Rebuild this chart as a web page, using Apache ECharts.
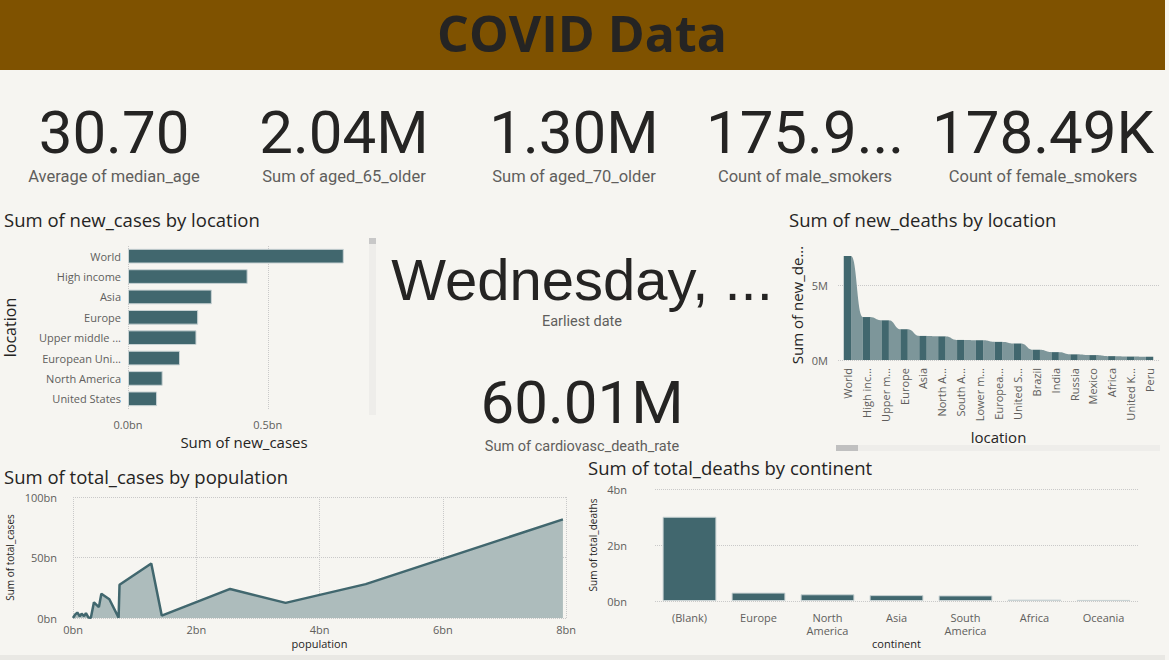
<!DOCTYPE html>
<html>
<head>
<meta charset="utf-8">
<title>COVID Data</title>
<script src="https://cdn.jsdelivr.net/npm/echarts@6/dist/echarts.min.js"></script>
<style>
html, body { margin: 0; padding: 0; background: #f6f5f1; }
#main { width: 1169px; height: 660px; }
</style>
</head>
<body>
<div id="main"></div>
<script>
// new_cases by location (bn)
var caseLocations = ['World', 'High income', 'Asia', 'Europe', 'Upper middle income', 'European Union', 'North America', 'United States'];
var newCases = [0.772, 0.428, 0.300, 0.251, 0.245, 0.186, 0.124, 0.104];

// new_deaths by location (M)
var deathLocations = ['World', 'High income', 'Upper middle income', 'Europe', 'Asia', 'North America', 'South America',
  'Lower middle income', 'European Union', 'United States', 'Brazil', 'India', 'Russia', 'Mexico', 'Africa', 'United Kingdom', 'Peru'];
var newDeaths = [7.0, 2.89, 2.67, 2.07, 1.62, 1.59, 1.35, 1.33, 1.22, 1.11, 0.69, 0.53, 0.38, 0.33, 0.26, 0.23, 0.22];

// total_cases by population (bn, bn)
var population = [0, 0.03, 0.07, 0.11, 0.14, 0.18, 0.21, 0.25, 0.29, 0.34, 0.42, 0.46, 0.59, 0.74, 0.755, 1.27, 1.44, 2.55, 3.45, 4.75, 7.95];
var totalCases = [0, 2.5, 4.5, 1.5, 3.5, 1.5, 4, 0.5, 0.3, 13, 9, 20, 15.5, 0.3, 27.5, 45, 2, 24, 12.5, 28, 81.5];

// total_deaths by continent (bn)
var continents = ['(Blank)', 'Europe', 'North America', 'Asia', 'South America', 'Africa', 'Oceania'];
var totalDeaths = [3.01, 0.30, 0.24, 0.21, 0.20, 0.05, 0.04];

// KPI cards
var kpiValues = ['30.70', '2.04M', '1.30M', '175.9...', '178.49K'];
var kpiLabels = ['Average of median_age', 'Sum of aged_65_older', 'Sum of aged_70_older', 'Count of male_smokers', 'Count of female_smokers'];
var kpiCenters = [114, 344, 574, 805, 1043];

var BAR = '#41676e';
var RIBBON = '#7d969a';
var AXIS_TXT = '#605e5c';
var DARK = '#252423';
var SANS = '"Open Sans", sans-serif';
var DIN = 'Roboto, sans-serif';
var ARIAL = '"Liberation Sans", sans-serif';

var populationData = [];
for (var i = 0; i < population.length; i++) {
  populationData.push([population[i], totalCases[i]]);
}
var ribbonData = [];
for (var j = 0; j < newDeaths.length - 1; j++) {
  ribbonData.push([j, newDeaths[j], newDeaths[j + 1]]);
}

function txt(text, x, y, size, font, fill, align, bold) {
  return {
    type: 'text', x: x, y: y, silent: true,
    style: {
      text: text, fontSize: size, fontFamily: font, fontWeight: bold ? 'bold' : 'normal',
      lineHeight: Math.round(size * 0.8), fill: fill, align: align || 'left', verticalAlign: 'middle'
    }
  };
}

var graphics = [
  { type: 'rect', shape: { x: 0, y: 0, width: 1165, height: 70 }, style: { fill: '#7f5200' }, silent: true },
  { type: 'rect', shape: { x: 0, y: 655, width: 1165, height: 5 }, style: { fill: '#e9e8e4' }, silent: true },
  txt('COVID Data', 582, 33, 50, SANS, DARK, 'center', true),
  txt('Sum of new_cases by location', 4, 219, 18.5, SANS, DARK),
  txt('Sum of new_deaths by location', 789, 219, 18.5, SANS, DARK),
  txt('Sum of total_cases by population', 4, 476, 18.5, SANS, DARK),
  txt('Sum of total_deaths by continent', 588, 467, 18.5, SANS, DARK),
  txt('Wednesday, ...', 582, 279, 58, ARIAL, DARK, 'center'),
  txt('Earliest date', 582, 321, 14.5, DIN, AXIS_TXT, 'center'),
  txt('60.01M', 582, 402, 60, DIN, DARK, 'center'),
  txt('Sum of cardiovasc_death_rate', 582, 446, 14.5, DIN, AXIS_TXT, 'center'),
  // scrollbars
  { type: 'rect', shape: { x: 369, y: 238, width: 7, height: 177 }, style: { fill: '#eeedea' }, silent: true },
  { type: 'rect', shape: { x: 369, y: 238, width: 7, height: 6 }, style: { fill: '#c8c8c8' }, silent: true },
  { type: 'rect', shape: { x: 836, y: 445, width: 324, height: 6 }, style: { fill: '#eeedea' }, silent: true },
  { type: 'rect', shape: { x: 836, y: 445, width: 22, height: 6 }, style: { fill: '#c0c0c0' }, silent: true }
];
for (var k = 0; k < kpiValues.length; k++) {
  graphics.push(txt(kpiValues[k], kpiCenters[k], 132, 60, DIN, DARK, 'center'));
  graphics.push(txt(kpiLabels[k], kpiCenters[k], 176, 16.5, DIN, AXIS_TXT, 'center'));
}

var dotted = { lineStyle: { type: 'dotted', color: '#c9c9c9' } };
var labelStyle = { color: AXIS_TXT, fontFamily: SANS, fontSize: 11 };

var chart = echarts.init(document.getElementById('main'), null, { renderer: 'svg' });
chart.setOption({
  backgroundColor: '#f6f5f1',
  animation: false,
  graphic: graphics,
  grid: [
    { left: 128, top: 246, width: 232, height: 163, outerBoundsMode: 'none' },
    { left: 838, top: 250, width: 321, height: 110, outerBoundsMode: 'none' },
    { left: 73, top: 497, width: 493, height: 121, outerBoundsMode: 'none' },
    { left: 655, top: 489, width: 483, height: 112, outerBoundsMode: 'none' }
  ],
  xAxis: [
    {
      gridIndex: 0, type: 'value', min: 0, max: 0.83, interval: 0.5,
      axisLine: { show: false }, axisTick: { show: false },
      splitLine: { show: true, showMaxLine: false, lineStyle: dotted.lineStyle },
      axisLabel: Object.assign({ showMaxLabel: false, margin: 10, formatter: function(v) { return v.toFixed(1) + 'bn' } }, labelStyle),
      name: 'Sum of new_cases', nameLocation: 'middle', nameGap: 25,
      nameTextStyle: { color: DARK, fontFamily: SANS, fontSize: 15 }
    },
    {
      gridIndex: 1, type: 'category', data: deathLocations,
      axisLine: { show: false }, axisTick: { show: false },
      axisLabel: Object.assign({ rotate: 90, interval: 0, margin: 8, width: 55, overflow: 'truncate', ellipsis: '...' }, labelStyle),
      name: 'location', nameLocation: 'middle', nameGap: 69,
      nameTextStyle: { color: DARK, fontFamily: SANS, fontSize: 15 }
    },
    {
      gridIndex: 2, type: 'value', min: 0, max: 8, interval: 2,
      axisLine: { show: false }, axisTick: { show: false },
      splitLine: dotted,
      axisLabel: Object.assign({ margin: 6, formatter: function(v) { return v + 'bn' } }, labelStyle),
      name: 'population', nameLocation: 'middle', nameGap: 20,
      nameTextStyle: { color: DARK, fontFamily: SANS, fontSize: 11 }
    },
    {
      gridIndex: 3, type: 'category', data: continents,
      axisLine: { show: false }, axisTick: { show: false },
      axisLabel: Object.assign({ interval: 0, margin: 10, lineHeight: 13, formatter: function(v) { return v.replace(' ', '\n') } }, labelStyle),
      name: 'continent', nameLocation: 'middle', nameGap: 37,
      nameTextStyle: { color: DARK, fontFamily: SANS, fontSize: 11 }
    }
  ],
  yAxis: [
    {
      gridIndex: 0, type: 'category', data: caseLocations, inverse: true,
      axisLine: { show: false }, axisTick: { show: false },
      axisLabel: Object.assign({ margin: 7, width: 84, overflow: 'truncate', ellipsis: '...' }, labelStyle),
      name: 'location', nameLocation: 'middle', nameGap: 110,
      nameTextStyle: { color: DARK, fontFamily: SANS, fontSize: 16 }
    },
    {
      gridIndex: 1, type: 'value', min: 0, max: 7.4, interval: 5,
      axisLine: { show: false }, axisTick: { show: false },
      splitLine: { show: true, showMaxLine: false, lineStyle: dotted.lineStyle },
      axisLabel: Object.assign({ showMaxLabel: false, margin: 10, formatter: function(v) { return v + 'M' } }, labelStyle),
      name: 'Sum of new_deaths', nameLocation: 'middle', nameGap: 34,
      nameTruncate: { maxWidth: 120, ellipsis: '...' },
      nameTextStyle: { color: DARK, fontFamily: SANS, fontSize: 15 }
    },
    {
      gridIndex: 2, type: 'value', min: 0, max: 100, interval: 50,
      axisLine: { show: false }, axisTick: { show: false },
      splitLine: dotted,
      axisLabel: Object.assign({ margin: 16, formatter: function(v) { return v + 'bn' } }, labelStyle),
      name: 'Sum of total_cases', nameLocation: 'middle', nameGap: 58,
      nameTextStyle: { color: DARK, fontFamily: SANS, fontSize: 10 }
    },
    {
      gridIndex: 3, type: 'value', min: 0, max: 4, interval: 2,
      axisLine: { show: false }, axisTick: { show: false },
      splitLine: dotted,
      axisLabel: Object.assign({ margin: 28, formatter: function(v) { return v + 'bn' } }, labelStyle),
      name: 'Sum of total_deaths', nameLocation: 'middle', nameGap: 57,
      nameTextStyle: { color: DARK, fontFamily: SANS, fontSize: 10 }
    }
  ],
  series: [
    {
      type: 'bar', xAxisIndex: 0, yAxisIndex: 0, data: newCases,
      barWidth: '72%', itemStyle: { color: BAR, borderColor: '#c9d3d4', borderWidth: 1 }, z: 3
    },
    {
      type: 'custom', xAxisIndex: 1, yAxisIndex: 1, data: ribbonData, z: 2,
      renderItem: function(params, api) {
        var idx = api.value(0);
        var a = api.value(1), b = api.value(2);
        var p0 = api.coord([idx, a]);
        var p1 = api.coord([idx + 1, b]);
        var base = api.coord([idx, 0])[1];
        var hw = api.size([1, 0])[0] * 0.39 / 2;
        var x0 = p0[0] + hw, x1 = p1[0] - hw, xm = (x0 + x1) / 2;
        var pts = [[x0, base]];
        for (var s = 0; s <= 20; s++) {
          var t = s / 20, u = 1 - t;
          var x = u * u * u * x0 + 3 * u * u * t * xm + 3 * u * t * t * xm + t * t * t * x1;
          var y = u * u * u * p0[1] + 3 * u * u * t * p0[1] + 3 * u * t * t * p1[1] + t * t * t * p1[1];
          pts.push([x, y]);
        }
        pts.push([x1, base]);
        return { type: 'polygon', shape: { points: pts }, style: { fill: RIBBON } };
      }
    },
    {
      type: 'bar', xAxisIndex: 1, yAxisIndex: 1, data: newDeaths,
      barWidth: '39%', itemStyle: { color: BAR }, z: 3
    },
    {
      type: 'line', xAxisIndex: 2, yAxisIndex: 2, data: populationData,
      showSymbol: false, lineStyle: { color: BAR, width: 2.5 },
      areaStyle: { color: '#adbcbc', opacity: 1 }
    },
    {
      type: 'bar', xAxisIndex: 3, yAxisIndex: 3, data: totalDeaths,
      barWidth: '78%', itemStyle: { color: BAR, borderColor: '#c9d3d4', borderWidth: 1 }
    }
  ]
});
</script>
</body>
</html>
